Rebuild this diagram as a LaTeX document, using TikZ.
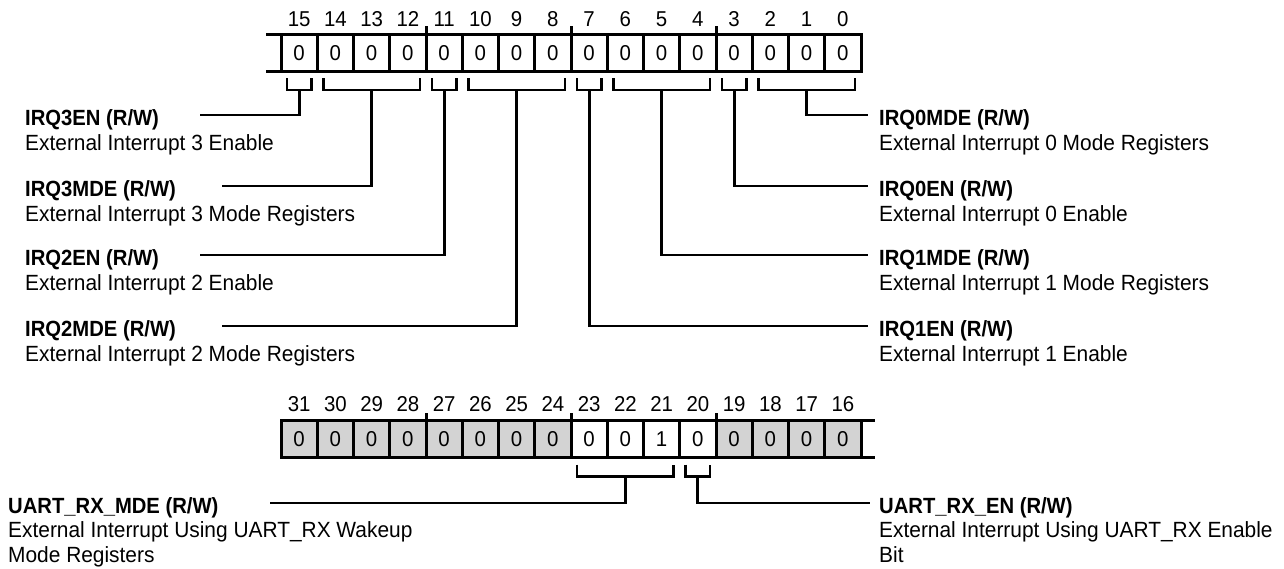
\documentclass[tikz,border=0pt]{standalone}
\usepackage{fontspec}
\setmainfont{Liberation Sans}[FakeStretch=0.95, BoldFeatures={FakeStretch=0.92}]
\usetikzlibrary{calc}
\definecolor{cellgray}{RGB}{211,211,211}
\newcommand\regbracket[2]{\draw[conn] ($(#1.south west)+(6,7)$) -- ++(0,12) -- ($(#2.south east)+(-6,19)$) -- ++(0,-12);}
\begin{document}
\begin{tikzpicture}[x=1pt,y=-1pt,
  regline/.style={line width=3pt},
  cell/.style={draw, line width=3pt, minimum width=36.25pt, minimum height=37pt, inner sep=0pt, outer sep=0pt, text height=15.4pt, text depth=0pt, font=\fontsize{21.5}{24}\selectfont, anchor=center},
  graycell/.style={cell, fill=cellgray},
  bitnum/.style={inner sep=0pt, anchor=base, font=\fontsize{21.5}{24}\selectfont},
  conn/.style={line width=2.8pt},
  lbl/.style={anchor=base west, inner sep=0pt, font=\fontsize{22}{25}\selectfont\bfseries},
  desc/.style={anchor=base west, inner sep=0pt, font=\fontsize{22}{25}\selectfont},
]
\useasboundingbox (0,0) rectangle (1284,568);

% ---------- top register (bits 15..0)
\foreach \b in {0,...,15}{
  \pgfmathsetmacro{\cx}{281+36.25*(15-\b)+18.125}
  \node[cell] (t\b) at (\cx,52.5) {0};
  \node[bitnum] (tn\b) at (\cx,26) {\b};
}
\draw[regline] (266,34) -- (t15.north west);
\draw[regline] (266,71) -- (t15.south west);
\foreach \b in {12,8,4}{ \draw[regline] (t\b.north east) -- ++(0,-8); }

% ---------- bottom register (bits 31..16)
\foreach \b/\v/\s in {31/0/graycell,30/0/graycell,29/0/graycell,28/0/graycell,27/0/graycell,26/0/graycell,25/0/graycell,24/0/graycell,23/0/cell,22/0/cell,21/1/cell,20/0/cell,19/0/graycell,18/0/graycell,17/0/graycell,16/0/graycell}{
  \pgfmathsetmacro{\cx}{281+36.25*(31-\b)+18.125}
  \node[\s] (b\b) at (\cx,439) {\v};
  \node[bitnum] (bn\b) at (\cx,411) {\b};
}
\draw[regline] (b16.north east) -- (875,420.5);
\draw[regline] (b16.south east) -- (875,457.5);
\foreach \b in {28,24,20}{ \draw[regline] (b\b.north east) -- ++(0,-8); }

% ---------- brackets
\regbracket{t15}{t15}
\regbracket{t14}{t12}
\regbracket{t11}{t11}
\regbracket{t10}{t8}
\regbracket{t7}{t7}
\regbracket{t6}{t4}
\regbracket{t3}{t3}
\regbracket{t2}{t0}
\regbracket{b23}{b21}
\regbracket{b20}{b20}

% ---------- stems
\coordinate (s15) at ($(t15.south)+(0,19)$);
\coordinate (s14) at ($(t14.south west)!0.5!(t12.south east)+(0,19)$);
\coordinate (s11) at ($(t11.south)+(0,19)$);
\coordinate (s10) at ($(t10.south west)!0.5!(t8.south east)+(0,19)$);
\coordinate (s7) at ($(t7.south)+(0,19)$);
\coordinate (s6) at ($(t6.south west)!0.5!(t4.south east)+(0,19)$);
\coordinate (s3) at ($(t3.south)+(0,19)$);
\coordinate (s2) at ($(t2.south west)!0.5!(t0.south east)+(0,19)$);
\coordinate (s23) at ($(b23.south west)!0.5!(b21.south east)+(0,19)$);
\coordinate (s20) at ($(b20.south)+(0,19)$);

% ---------- line ends
\coordinate (e3en) at (200,115);
\coordinate (e3mde) at (222,186);
\coordinate (e2en) at (200,255);
\coordinate (e2mde) at (222,326);
\coordinate (e0mde) at (868,115);
\coordinate (e0en) at (868,186);
\coordinate (e1mde) at (868,255);
\coordinate (e1en) at (868,326);
\coordinate (euartmde) at (270,503);
\coordinate (euarten) at (870,503);

\draw[conn] (s15) |- (e3en);
\draw[conn] (s14) |- (e3mde);
\draw[conn] (s11) |- (e2en);
\draw[conn] (s10) |- (e2mde);
\draw[conn] (s2) |- (e0mde);
\draw[conn] (s3) |- (e0en);
\draw[conn] (s6) |- (e1mde);
\draw[conn] (s7) |- (e1en);
\draw[conn] (s23) |- (euartmde);
\draw[conn] (s20) |- (euarten);

% ---------- labels left
\node[lbl] (n3en) at (25,125) {IRQ3EN (R/W)};
\node[desc] (d3en) at (25,150) {External Interrupt 3 Enable};
\node[lbl] (n3mde) at (25,196) {IRQ3MDE (R/W)};
\node[desc] (d3mde) at (25,221) {External Interrupt 3 Mode Registers};
\node[lbl] (n2en) at (25,265) {IRQ2EN (R/W)};
\node[desc] (d2en) at (25,290) {External Interrupt 2 Enable};
\node[lbl] (n2mde) at (25,336) {IRQ2MDE (R/W)};
\node[desc] (d2mde) at (25,361) {External Interrupt 2 Mode Registers};

% ---------- labels right
\node[lbl] (n0mde) at (879,125) {IRQ0MDE (R/W)};
\node[desc] (d0mde) at (879,150) {External Interrupt 0 Mode Registers};
\node[lbl] (n0en) at (879,196) {IRQ0EN (R/W)};
\node[desc] (d0en) at (879,221) {External Interrupt 0 Enable};
\node[lbl] (n1mde) at (879,265) {IRQ1MDE (R/W)};
\node[desc] (d1mde) at (879,290) {External Interrupt 1 Mode Registers};
\node[lbl] (n1en) at (879,336) {IRQ1EN (R/W)};
\node[desc] (d1en) at (879,361) {External Interrupt 1 Enable};

% ---------- UART labels
\node[lbl] (nuartmde) at (8,513) {UART\_RX\_MDE (R/W)};
\node[desc] (duartmde1) at (8,537) {External Interrupt Using UART\_RX Wakeup};
\node[desc] (duartmde2) at (8,562) {Mode Registers};
\node[lbl] (nuarten) at (879,513) {UART\_RX\_EN (R/W)};
\node[desc] (duarten1) at (879,537) {External Interrupt Using UART\_RX Enable};
\node[desc] (duarten2) at (879,562) {Bit};
\end{tikzpicture}
\end{document}
